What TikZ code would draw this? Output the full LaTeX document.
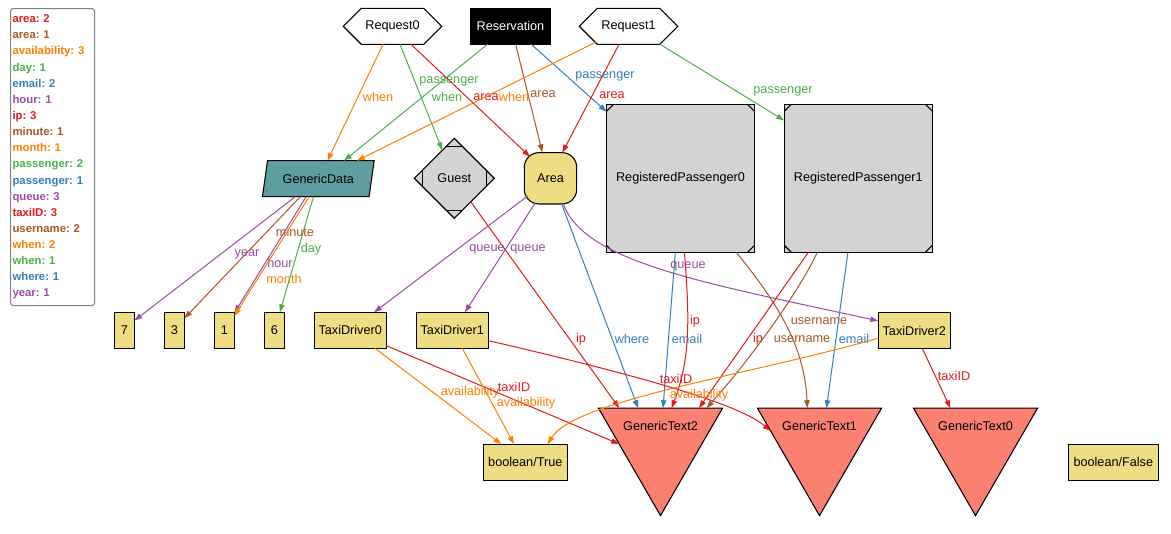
\documentclass[tikz,border=0pt]{standalone}
\usepackage{xcolor}
\usepackage{fontspec}
\setmainfont{Liberation Sans}
\usepackage{tikz}
\usetikzlibrary{shapes, shapes.symbols, shapes.geometric, arrows.meta}
\frenchspacing

\definecolor{ered}{HTML}{E41A1C}
\definecolor{ebrown}{HTML}{A65628}
\definecolor{eorange}{HTML}{FF7F00}
\definecolor{egreen}{HTML}{4DAF4A}
\definecolor{eblue}{HTML}{377EB8}
\definecolor{epurple}{HTML}{984EA3}
\definecolor{cadet}{HTML}{5F9EA0}
\definecolor{goldfill}{HTML}{EEDD82}
\definecolor{salmonfill}{HTML}{FA8072}
\definecolor{grayfill}{HTML}{D3D3D3}

\begin{document}
\begin{tikzpicture}[x=0.75pt, y=-0.75pt,
    every node/.style={font=\fontsize{9.5}{11.5}\selectfont},
    shapeline/.style={draw, line width=0.8pt, inner sep=0pt, outer sep=0pt},
    hexa/.style={shapeline, signal, signal to=east and west, signal pointer angle=90, fill=white, minimum width=73.8pt, minimum height=27pt},
    valbox/.style={shapeline, rectangle, fill=goldfill, minimum height=27pt},
    msquare/.style={shapeline, rectangle, fill=grayfill, minimum size=111pt},
    invtri/.style={shapeline, regular polygon, regular polygon sides=3, shape border rotate=180, fill=salmonfill, minimum size=107.4pt},
    edge/.style={line width=0.75pt, -{Triangle[length=6pt,width=4pt]}},
    lb/.style={inner sep=0pt},
  ]
    \fill[white] (0,0) rectangle (1171,533);
    \useasboundingbox (0,0) rectangle (1171,533);

    \node (legend) [draw=gray, rounded corners=2pt, line width=0.8pt, anchor=north west, text width=60pt, minimum height=222.75pt, inner sep=1.5pt, align=left, font=\bfseries\fontsize{8.5}{12.1}\selectfont] at (10,8) {\textcolor{ered}{area: 2}\\\textcolor{ebrown}{area: 1}\\\textcolor{eorange}{availability: 3}\\\textcolor{egreen}{day: 1}\\\textcolor{eblue}{email: 2}\\\textcolor{epurple}{hour: 1}\\\textcolor{ered}{ip: 3}\\\textcolor{ebrown}{minute: 1}\\\textcolor{eorange}{month: 1}\\\textcolor{egreen}{passenger: 2}\\\textcolor{eblue}{passenger: 1}\\\textcolor{epurple}{queue: 3}\\\textcolor{ered}{taxiID: 3}\\\textcolor{ebrown}{username: 2}\\\textcolor{eorange}{when: 2}\\\textcolor{egreen}{when: 1}\\\textcolor{eblue}{where: 1}\\\textcolor{epurple}{year: 1}};

    \node (request0) [hexa] at (392.5,26.3) {Request0};
    \node (reservation) [shapeline, fill=black, text=white, minimum width=59.25pt, minimum height=27pt] at (510.5,26.3) {Reservation};
    \node (request1) [hexa] at (628.5,26.3) {Request1};
    \node (genericdata) [shapeline, trapezium, trapezium left angle=69, trapezium right angle=111, trapezium stretches=true, fill=cadet, minimum width=84pt, minimum height=27pt] at (318.3,178.7) {GenericData};
    \node (guest) [shapeline, diamond, fill=grayfill, minimum width=60pt, minimum height=60pt] at (454.3,178.3) {Guest};
    \node (area) [shapeline, rounded corners=11pt, fill=goldfill, minimum width=39.3pt, minimum height=38.5pt] at (550.5,178.3) {Area};
    \node (regpass0) [msquare] at (680.5,178.3) {RegisteredPassenger0};
    \node (regpass1) [msquare] at (858.3,178.3) {RegisteredPassenger1};
    \node (num7) [valbox, minimum width=15pt] at (124.3,330.3) {7};
    \node (num3) [valbox, minimum width=15pt] at (174.3,330.3) {3};
    \node (num1) [valbox, minimum width=15pt] at (224.3,330.3) {1};
    \node (num6) [valbox, minimum width=15pt] at (274.3,330.3) {6};
    \node (taxi0) [valbox, minimum width=54pt] at (350.2,330.3) {TaxiDriver0};
    \node (taxi1) [valbox, minimum width=54pt] at (452.3,330.3) {TaxiDriver1};
    \node (taxi2) [valbox, minimum width=54pt] at (914.3,330.5) {TaxiDriver2};
    \node (booltrue) [valbox, minimum width=63pt] at (525.3,462.2) {boolean/True};
    \node (boolfalse) [valbox, minimum width=67.5pt] at (1113.3,462.2) {boolean/False};
    \node (text2) [invtri, label={[yshift=13.5pt]center:GenericText2}] at (660.5,444) {};
    \node (text1) [invtri, label={[yshift=13.5pt]center:GenericText1}] at (819.5,444) {};
    \node (text0) [invtri, label={[yshift=13.5pt]center:GenericText0}] at (975.5,444) {};

    \foreach \n in {regpass0,regpass1}
      \foreach \a/\sx/\sy in {north west/1/1, north east/-1/1, south west/1/-1, south east/-1/-1}
        \draw[line width=0.8pt] ([shift={(0,7*\sy)}]\n.\a) -- ([shift={(7*\sx,0)}]\n.\a);
    \draw[line width=0.8pt] ([shift={(-8,8)}]guest.north) -- ([shift={(8,8)}]guest.north)
      ([shift={(-8,-8)}]guest.south) -- ([shift={(8,-8)}]guest.south)
      ([shift={(8,-8)}]guest.west) -- ([shift={(8,8)}]guest.west)
      ([shift={(-8,-8)}]guest.east) -- ([shift={(-8,8)}]guest.east);

    \draw[edge, eorange] ([shift={(-9.5,0)}]request0.south) -- (genericdata.63) node[lb] at (378,97) {when};
    \draw[edge, egreen] ([shift={(7.5,0)}]request0.south) -- (guest.113) node[lb] at (449,81) {passenger};
    \draw[edge, ered] ([shift={(18.5,0)}]request0.south) -- ([shift={(-20.5,-21.6)}]area.center) node[lb] at (486,97) {area};
    \draw[edge, egreen] (reservation.-142) -- (genericdata.35) node[lb] at (447,97) {when};
    \draw[edge, ebrown] (reservation.-74) -- ([shift={(-8.2,-26)}]area.center) node[lb] at (543,94) {area};
    \draw[edge, eblue] (reservation.-41) -- (regpass0.138) node[lb] at (605,76) {passenger};
    \draw[edge, eorange] ([shift={(-33,-2)}]request1.south) -- (genericdata.25) node[lb] at (514,97) {when};
    \draw[edge, ered] ([shift={(-9.5,0)}]request1.south) -- ([shift={(11.8,-25.6)}]area.center) node[lb] at (612,95) {area};
    \draw[edge, egreen] ([shift={(31.5,0)}]request1.south) -- (regpass1.142) node[lb] at (783,91) {passenger};

    \draw[edge, epurple] (genericdata.-142) -- (num7.44) node[lb] at (247,254) {year};
    \draw[edge, ebrown] (genericdata.-135) -- (num3.50) node[lb] at (295,232) {minute};
    \draw[edge, epurple] (genericdata.-124) -- (num1.60) node[lb] at (280,263) {hour};
    \draw[edge, eorange] (genericdata.-117) -- (num1.55) node[lb] at (284,279) {month};
    \draw[edge, egreen] (genericdata.-105) -- (num6.73) node[lb] at (311,249) {day};

    \draw[edge, ered] (guest.-55) -- (text2.139) node[lb] at (581,339) {ip};
    \draw[edge, epurple] ([shift={(-22.8,17.7)}]area.center) -- (taxi0.37) node[lb] at (487,249) {queue};
    \draw[edge, epurple] ([shift={(-15.5,25)}]area.center) -- (taxi1.55) node[lb] at (528,249) {queue};
    \draw[edge, eblue] ([shift={(11.2,25.7)}]area.center) -- (text2.122) node[lb] at (632,339) {where};
    \draw[edge, epurple] ([shift={(12.8,25.7)}]area.center) .. controls (585,262) and (700,282) .. (taxi2.165) node[lb] at (688,266) {queue};

    \draw[edge, eblue] (regpass0.-94) -- (text2.86) node[lb] at (687,339) {email};
    \draw[edge, ered] (regpass0.-87) .. controls (690,320) and (690,360) .. (text2.73) node[lb] at (695,321) {ip};
    \draw[edge, ebrown] (regpass0.-53) .. controls (775,300) and (805,345) .. (text1.109) node[lb] at (819,321) {username};
    \draw[edge, ered] (regpass1.-124) -- (text2.43) node[lb] at (758,339) {ip};
    \draw[edge, ebrown] (regpass1.-119) .. controls (800,290) and (750,360) .. (text2.38) node[lb] at (802,339) {username};
    \draw[edge, eblue] (regpass1.-98) -- (text1.79) node[lb] at (854,339) {email};

    \draw[edge, eorange] (taxi0.-36) -- (booltrue.143) node[lb] at (470,392) {availability};
    \draw[edge, ered] (taxi0.-23) -- (text2.180) node[lb] at (514,387) {taxiID};
    \draw[edge, eorange] (taxi1.-61) -- (booltrue.122) node[lb] at (526,403) {availability};
    \draw[edge, ered] (taxi1.-16) .. controls (650,378) and (740,405) .. (text1.165) node[lb] at (676,379) {taxiID};
    \draw[edge, eorange] (taxi2.-168) .. controls (750,375) and (575,400) .. (booltrue.39) node[lb] at (699,395) {availability};
    \draw[edge, ered] (taxi2.-66) -- (text0.125) node[lb] at (954,376) {taxiID};
\end{tikzpicture}
\end{document}
